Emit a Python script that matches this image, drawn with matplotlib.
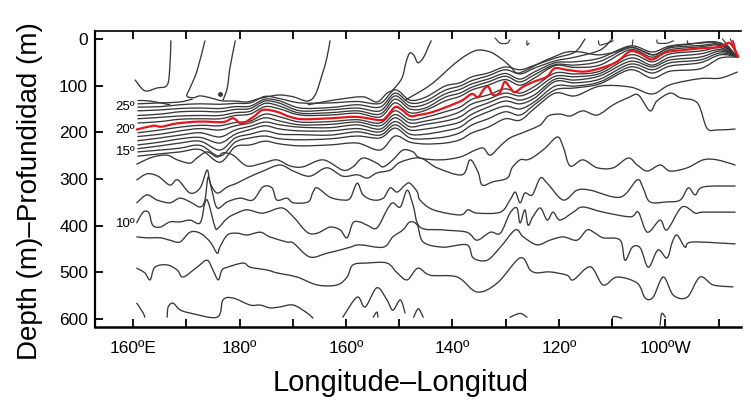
import matplotlib
matplotlib.use('Agg')
import matplotlib.pyplot as plt
from matplotlib.path import Path
from matplotlib.patches import PathPatch

plt.rcParams['font.family'] = ['Liberation Sans', 'DejaVu Sans']

# Longitude in degrees east (180 = dateline, 260 = 100W), depth in metres.
# Isotherms.

# thermocline bundle, sampled on a common set of longitudes
bundle_lon = [160.9, 165.1, 168.8, 172.6, 176.3, 179.2, 182.0, 184.8, 187.6, 191.4,
              197.0, 202.1, 206.4, 209.2, 212.0, 214.9, 218.6, 221.4, 223.7, 226.7,
              229.9, 232.7, 235.5, 239.3, 243.0, 247.7, 253.4, 257.5, 260.9, 266.5,
              270.3, 273.5]
t1 = [180, 177, 172, 171, 171, 164, 161, 145, 150, 163, 163, 159, 167, 137, 158, 153,
      133, 123, 109, 99, 87, 99, 83, 57, 61, 56, 23, 39, 23, 17, 14, 38]
t2 = [171, 168, 165, 164, 164, 158, 155, 138, 144, 159, 158, 154, 161, 129, 150, 148,
      125, 116, 103, 92, 80, 92, 76, 55, 56, 48, 19, 34, 19, 14, 12, 38]
t3 = [164, 161, 156, 155, 156, 151, 149, 133, 138, 154, 152, 148, 154, 122, 144, 140,
      118, 108, 96, 86, 74, 86, 70, 51, 49, 41, 15, 28, 15, 9, 9, 38]
t4 = [154, 152, 149, 148, 149, 145, 144, 129, 133, 148, 147, 141, 146, 116, 137, 133,
      110, 101, 89, 79, 66, 75, 62, 47, 39, 24, 0]
t4_lon = bundle_lon[:26] + [250.0]
t5 = [146, 145, 141, 139, 140, 138, 137, 123, 128, 137, 137, 134, 138, 109, 131, 125,
      101, 94, 81, 73, 60, 66, 56, 41, 28, 0]
t5_lon = bundle_lon[:25] + [244.9]
b1 = [201, 195, 189, 185, 186, 179, 176, 161, 167, 178, 177, 173, 180, 154, 173, 168,
      156, 146, 129, 120, 107, 116, 101, 73, 75, 69, 34, 49, 32, 26, 19, 38]
b2 = [209, 204, 197, 192, 195, 186, 180, 169, 176, 184, 183, 178, 186, 162, 180, 176,
      167, 156, 139, 129, 116, 122, 109, 80, 81, 74, 41, 56, 39, 32, 23, 38]
b3 = [218, 212, 206, 201, 210, 195, 187, 178, 184, 189, 190, 184, 193, 169, 188, 183,
      176, 167, 150, 137, 124, 131, 119, 86, 88, 79, 48, 60, 45, 39, 26, 38]
b4 = [227, 221, 214, 211, 223, 204, 194, 186, 193, 197, 197, 192, 199, 177, 195, 193,
      186, 178, 161, 146, 133, 139, 126, 91, 94, 86, 54, 66, 51, 45, 30, 38]
b5 = [235, 229, 223, 219, 238, 212, 204, 197, 204, 205, 206, 199, 206, 184, 204, 204,
      197, 189, 171, 156, 144, 150, 134, 101, 101, 92, 60, 73, 58, 51, 34, 38]
b6 = [242, 238, 234, 228, 251, 221, 212, 208, 214, 216, 214, 208, 212, 191, 212, 214,
      210, 201, 184, 171, 156, 163, 140, 109, 105, 96, 66, 84, 69, 64, 41, 39]
b7 = [251, 246, 242, 237, 264, 231, 227, 219, 225, 229, 227, 223, 238, 208, 221, 225,
      223, 216, 201, 189, 171, 174, 148, 116, 122, 101, 103, 118, 98, 85, 84, 71]

# short warm lines at the western end
t6_lon = [160.9, 165.1, 168.8, 171.1]
t6 = [139, 137, 135, 129]
t7_lon = [160.9, 163.2, 166.9]
t7 = [132, 133, 141]

# 20 C isotherm (red)
red_lon = [160.7, 163.8, 165.3, 168.2, 172.5, 176.9, 178.8, 180.4, 182.6, 184.4,
           187.0, 189.5, 192.0, 197.0, 202.0, 206.4, 207.6, 209.2, 210.4, 212.0,
           213.6, 216.4, 221.4, 223.6, 224.8, 225.8, 226.7, 227.6, 228.9, 229.8,
           230.8, 231.7, 233.3, 235.2, 237.7, 239.2, 241.4, 244.6, 247.7, 250.9,
           253.3, 255.2, 257.4, 259.6, 260.8, 263.3, 266.5, 270.2, 272.1, 273.7]
red_depth = [194, 186, 188, 181, 177, 178, 170, 181, 167, 152, 156, 167, 172, 170, 167,
             174, 167, 146, 151, 165, 163, 156, 134, 118, 125, 109, 102, 120, 115, 92,
             104, 114, 102, 92, 81, 63, 66, 70, 63, 49, 27, 31, 44, 31, 27, 24, 20, 17,
             9, 38]
red_ray_lon = [272.7, 273.5]
red_ray = [4, 39]

# deeper isotherms
d0_lon = [160.7, 163.7, 166.4, 168.3, 170.7, 172.0, 173.9, 175.8, 176.9, 178.8,
          181.4, 184.4, 187.0, 189.5, 191.9, 195.7, 199.4, 201.3, 203.2, 205.8,
          207.0, 208.8, 210.7, 212.6, 213.9, 217.7, 221.4, 224.3, 225.8, 227.1,
          229.0, 230.8, 233.6, 236.5, 238.0, 240.2, 242.1, 244.5, 247.2, 250.2,
          253.0, 254.9, 257.1, 258.4, 260.9, 262.8, 266.0, 267.8, 269.7, 273.1]
d0 = [268, 253, 249, 259, 266, 255, 242, 253, 244, 249, 272, 266, 259, 272, 274, 259,
      281, 274, 255, 266, 274, 259, 238, 242, 255, 259, 253, 238, 234, 249, 229, 212,
      199, 184, 165, 161, 165, 154, 163, 141, 126, 120, 154, 133, 116, 126, 137, 191,
      195, 193]

d2_lon = [160.7, 162.6, 164.7, 166.9, 168.4, 170.7, 172.6, 173.9, 174.5, 175.8,
          177.7, 179.5, 181.4, 184.4, 187.6, 190.1, 193.2, 196.4, 199.4, 202.1,
          204.0, 205.8, 208.3, 210.2, 213.9, 217.1, 221.8, 223.3, 224.8, 225.6,
          227.6, 230.3, 231.2, 232.7, 234.0, 235.2, 237.4, 239.7, 240.8, 242.1,
          244.5, 247.2, 250.2, 253.0, 254.7, 256.6, 259.0, 260.9, 264.1, 267.1,
          269.7, 273.1]
d2 = [302, 289, 294, 313, 302, 330, 319, 281, 309, 330, 317, 309, 298, 283, 270, 283,
      294, 276, 294, 291, 298, 287, 281, 264, 255, 276, 291, 259, 285, 313, 306, 298,
      276, 259, 259, 253, 234, 210, 231, 272, 259, 276, 276, 255, 270, 283, 270, 283,
      276, 259, 259, 270]

d3_lon = [160.7, 162.6, 164.5, 166.9, 168.8, 170.7, 172.6, 173.5, 174.1, 174.8,
          175.8, 177.7, 180.1, 182.5, 184.4, 186.1, 187.0, 188.9, 190.1, 192.9,
          193.8, 194.6, 197.0, 199.4, 200.8, 202.1, 203.2, 205.1, 207.0, 208.3,
          209.6, 211.1, 212.0, 213.4, 213.9, 216.4, 221.4, 222.9, 224.6, 229.0,
          230.8, 231.8, 232.7, 233.6, 235.0, 236.5, 237.8, 240.8, 243.4, 245.9,
          251.5, 254.7, 255.8, 257.1, 260.3, 262.8, 264.3, 265.6, 267.1, 273.1]
d3 = [351, 334, 345, 351, 341, 349, 360, 345, 296, 324, 362, 349, 341, 345, 317, 319,
      345, 341, 351, 349, 328, 319, 339, 345, 341, 309, 334, 345, 341, 319, 328, 313,
      309, 328, 345, 366, 377, 366, 373, 371, 345, 328, 351, 330, 334, 298, 309, 345,
      324, 324, 339, 302, 319, 349, 349, 345, 319, 334, 317, 315]

d4_lon = [160.7, 161.5, 162.2, 163.0, 163.7, 165.1, 166.9, 168.8, 170.7, 172.6,
          173.5, 174.1, 175.4, 176.0, 177.7, 179.5, 181.4, 183.9, 185.2, 188.0,
          190.1, 192.7, 194.6, 197.0, 198.9, 200.2, 201.3, 202.6, 204.0, 205.8,
          207.7, 208.8, 210.2, 211.5, 212.6, 213.9, 218.2, 222.7, 224.6, 227.1,
          229.0, 230.8, 232.1, 232.7, 233.6, 234.2, 235.1, 236.5, 237.8, 238.9,
          240.2, 242.7, 244.5, 248.3, 253.4, 254.9, 256.6, 259.0, 260.3, 263.1,
          265.6, 267.1, 273.1]
d4 = [394, 377, 369, 373, 399, 403, 392, 392, 388, 394, 351, 349, 403, 405, 384, 373,
      366, 373, 371, 362, 381, 414, 416, 403, 409, 426, 394, 392, 399, 405, 366, 351,
      360, 324, 356, 403, 409, 414, 431, 414, 416, 373, 362, 394, 366, 399, 381, 362,
      388, 371, 388, 371, 360, 371, 381, 371, 414, 388, 409, 360, 373, 371, 371]

d5_lon = [160.7, 162.6, 165.1, 166.9, 168.8, 170.7, 172.6, 174.5, 175.8, 176.3,
          177.7, 179.5, 181.4, 183.9, 185.7, 188.9, 190.1, 193.2, 196.4, 198.9,
          200.8, 202.6, 207.0, 208.8, 210.7, 212.0, 213.4, 214.5, 218.2, 222.7,
          223.9, 226.5, 229.0, 231.8, 233.3, 235.9, 238.3, 240.8, 243.4, 245.3,
          246.8, 248.3, 251.5, 252.4, 253.8, 255.3, 256.8, 258.6, 260.3, 261.3,
          262.2, 263.7, 265.0, 273.1]
d5 = [424, 426, 426, 431, 435, 414, 416, 435, 459, 446, 420, 416, 420, 414, 424, 435,
      437, 467, 459, 452, 446, 441, 446, 424, 409, 392, 399, 435, 446, 441, 469, 474,
      446, 409, 424, 441, 431, 424, 431, 409, 416, 426, 431, 474, 446, 448, 489, 452,
      469, 435, 420, 446, 435, 439]

d6_lon = [160.7, 162.2, 163.2, 164.1, 166.4, 168.3, 169.4, 172.0, 173.9, 175.0,
          176.0, 176.7, 177.7, 180.7, 182.0, 185.2, 187.0, 190.8, 194.6, 198.3,
          200.2, 201.3, 204.0, 207.7, 209.6, 211.5, 213.5, 215.8, 220.9, 224.6,
          228.4, 232.7, 234.6, 235.9, 238.3, 241.5, 242.7, 245.9, 248.3, 250.9,
          254.7, 256.2, 257.7, 259.6, 261.5, 264.1, 266.5, 269.0, 272.7]
d6 = [491, 501, 516, 489, 484, 495, 510, 489, 474, 495, 516, 495, 489, 480, 489, 495,
      501, 510, 527, 527, 510, 484, 480, 480, 501, 516, 491, 506, 510, 542, 523, 469,
      495, 501, 499, 506, 516, 488, 527, 510, 523, 555, 553, 510, 549, 553, 510, 527,
      531]

# broken pieces near 600 m
frag_lon = [[160.7, 161.9, 162.2],
            [166.4, 166.6, 167.5, 168.8, 170.7, 175.8, 176.9, 178.8, 182.0, 183.9,
             185.7, 187.6, 190.1, 192.7, 193.8],
            [199.4, 202.1, 203.6, 205.8, 207.7, 208.8, 210.2, 211.1],
            [205.1, 205.8, 206.0],
            [212.7, 213.6, 214.5],
            [230.8, 232.7, 234.0],
            [249.9, 250.2, 251.8],
            [259.0, 259.3, 260.0]]
frag_depth = [[566, 587, 596],
              [596, 574, 566, 580, 587, 596, 559, 555, 570, 570, 576, 574, 570, 587, 598],
              [596, 553, 574, 533, 559, 581, 559, 587],
              [596, 585, 596],
              [596, 578, 596],
              [596, 588, 596],
              [613, 595, 598],
              [613, 588, 596]]

# warm isotherms that reach the surface
o1_lon = [160.4, 162.2, 164.5, 166.4, 166.9, 167.1]
o1 = [88, 111, 105, 99, 62, 4]
o2_lon = [173.5, 172.0, 170.7, 170.1, 171.3, 172.6, 174.5, 176.0, 177.3, 179.2,
          181.4, 183.3, 185.2, 187.6, 190.1, 192.7, 194.2, 195.5, 196.4, 197.0]
o2 = [4, 69, 105, 122, 126, 122, 126, 131, 133, 133, 135, 129, 124, 120, 124, 133,
      120, 77, 41, 4]
o3_lon = [179.2, 178.2, 177.7, 176.9]
o3 = [4, 62, 105, 131]
o4_lon = [192.9, 195.7, 198.9, 203.2, 205.8, 207.7, 208.8, 210.5, 211.3, 212.0,
          212.8, 213.5, 214.5, 215.4, 216.0]
o4 = [141, 135, 129, 124, 135, 116, 109, 84, 49, 30, 36, 51, 41, 19, 4]
o5_lon = [211.1, 215.8, 220.1, 222.7, 224.8, 227.1, 229.0, 230.8, 232.1, 234.0,
          236.5, 238.9, 241.5, 244.0, 245.9, 247.7, 250.6, 253.4, 256.2, 258.1,
          260.9, 264.7, 268.4, 271.2, 273.5]
o5 = [131, 99, 56, 34, 24, 28, 41, 58, 73, 66, 51, 39, 28, 28, 32, 34, 28, 17, 28, 34,
      17, 11, 6, 13, 39]

# small loops right under the surface and the fan at the eastern end
hook_lon = [[228.0, 229.0, 230.3, 230.8], [234.0, 234.0, 234.4],
            [247.4, 247.7, 249.1, 250.2], [253.9, 253.8],
            [258.4, 258.6, 260.3, 261.5], [264.1, 264.3, 264.7],
            [268.8, 273.5], [270.7, 273.5], [272.2, 273.5]]
hook_depth = [[-2, 9, 9, 2], [4, 13, 9],
              [4, 13, 9, 4], [2, 13],
              [2, 9, 9, 4], [4, 11, 9],
              [6, 39], [0, 39], [0, 39]]

label_temps = ['25º', '20º', '15º', '10º']
label_depths = [146, 194, 242, 396]

xtick_lon = [160, 170, 180, 190, 200, 210, 220, 230, 240, 250, 260, 270]
xtick_text = ['160ºE', '', '180º', '', '160º', '', '140º', '', '120º', '', '100ºW', '']
ytick_depth = [0, 100, 200, 300, 400, 500, 600]


def smooth_line(ax, xs, ys, color, lw):
    # draw a smooth curve through the read points (Catmull-Rom as cubic Beziers)
    pts = list(zip(xs, ys))
    n = len(pts)
    verts = [pts[0]]
    codes = [Path.MOVETO]
    for i in range(n - 1):
        p0 = pts[i - 1] if i > 0 else pts[i]
        p1 = pts[i]
        p2 = pts[i + 1]
        p3 = pts[i + 2] if i + 2 < n else pts[i + 1]
        c1 = (p1[0] + (p2[0] - p0[0]) / 6, p1[1] + (p2[1] - p0[1]) / 6)
        c2 = (p2[0] - (p3[0] - p1[0]) / 6, p2[1] - (p3[1] - p1[1]) / 6)
        verts += [c1, c2, p2]
        codes += [Path.CURVE4] * 3
    ax.add_patch(PathPatch(Path(verts, codes), fill=False, edgecolor=color,
                           lw=lw, capstyle='round', joinstyle='round'))


fig = plt.figure(figsize=(7.51, 4.0), dpi=100)
ax = fig.add_axes([95 / 751, 73 / 400, 646 / 751, 296 / 400])

line_col = '#383838'
lw = 0.95
for d in [t1, t2, t3, b1, b2, b3, b4, b5, b6, b7]:
    smooth_line(ax, bundle_lon, d, line_col, lw)
for lo, d in [(t4_lon, t4), (t5_lon, t5), (t6_lon, t6), (t7_lon, t7),
              (d0_lon, d0), (d2_lon, d2), (d3_lon, d3), (d4_lon, d4),
              (d5_lon, d5), (d6_lon, d6),
              (o1_lon, o1), (o2_lon, o2), (o3_lon, o3), (o4_lon, o4), (o5_lon, o5)]:
    smooth_line(ax, lo, d, line_col, lw)
for lo, d in zip(frag_lon, frag_depth):
    smooth_line(ax, lo, d, line_col, lw)
for lo, d in zip(hook_lon, hook_depth):
    smooth_line(ax, lo, d, line_col, 0.85)
ax.plot([176.3], [119], 'o', color=line_col, ms=2.5)

smooth_line(ax, red_lon, red_depth, '#e3161b', 1.6)
smooth_line(ax, red_ray_lon, red_ray, '#e3161b', 1.3)

for t, d in zip(label_temps, label_depths):
    ax.text(160.4, d, t, ha='right', va='center', fontsize=9.5)

ax.set_xlim(152.85, 274.2)
ax.set_ylim(617, -17)
ax.set_xticks(xtick_lon)
ax.set_xticklabels(xtick_text)
ax.set_yticks(ytick_depth)
ax.tick_params(axis='both', direction='in', length=6, width=1.3, labelsize=12.5)
ax.tick_params(axis='x', top=True, pad=10)
ax.tick_params(axis='y', pad=5)
ax.spines['right'].set_visible(False)
ax.spines['left'].set_linewidth(1.6)
ax.spines['bottom'].set_linewidth(1.8)
ax.spines['top'].set_linewidth(1.2)

fig.text(30 / 751, 1 - 191 / 400, 'Depth (m)\u2013Profundidad (m)', rotation=90,
         ha='center', va='center', fontsize=20)
fig.text(401 / 751, 1 - 383 / 400, 'Longitude\u2013Longitud',
         ha='center', va='center', fontsize=21)

fig.savefig('out.png', dpi=100)
